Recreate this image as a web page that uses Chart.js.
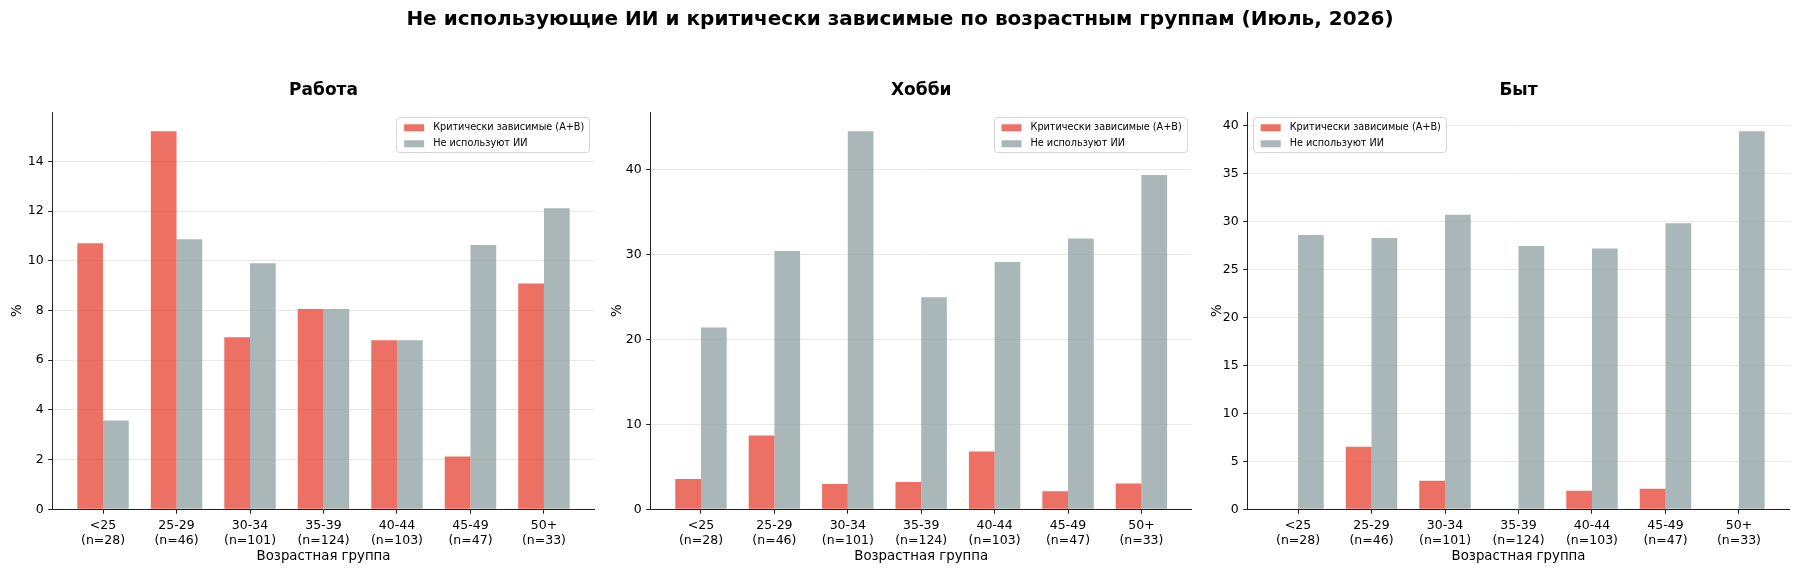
<!DOCTYPE html>
<html lang="ru">
<head>
<meta charset="utf-8">
<title>Не использующие ИИ и критически зависимые</title>
<script src="https://cdn.jsdelivr.net/npm/chart.js@4.4.1/dist/chart.umd.min.js"></script>
<style>
  body { margin: 0; background: #fff; }
  #page { position: relative; width: 1800px; height: 572px; }
  #page canvas { position: absolute; top: 0; }
  #suptitle {
    position: absolute; left: 0; top: 6px; width: 1800px;
    text-align: center; line-height: 24px;
    font: bold 20px 'DejaVu Sans', sans-serif; color: #000;
  }
</style>
</head>
<body>
<div id="page">
  <canvas id="work" width="600" height="572" style="left:0"></canvas>
  <canvas id="hobby" width="600" height="572" style="left:600px"></canvas>
  <canvas id="home" width="600" height="572" style="left:1200px"></canvas>
  <div id="suptitle">Не использующие ИИ и критически зависимые по возрастным группам (Июль, 2026)</div>
</div>
<script>
// --- data (%) ---
const ageGroups = ['<25', '25-29', '30-34', '35-39', '40-44', '45-49', '50+'];
const sampleSizes = [28, 46, 101, 124, 103, 47, 33];

const workDependent = [10.71, 15.22, 6.93, 8.06, 6.80, 2.13, 9.09];
const workNonUsers  = [3.57, 10.87, 9.90, 8.06, 6.80, 10.64, 12.12];

const hobbyDependent = [3.57, 8.70, 2.97, 3.23, 6.80, 2.13, 3.03];
const hobbyNonUsers  = [21.43, 30.43, 44.55, 25.00, 29.13, 31.91, 39.39];

const homeDependent = [0, 6.52, 2.97, 0, 1.94, 2.13, 0];
const homeNonUsers  = [28.57, 28.26, 30.69, 27.42, 27.18, 29.79, 39.39];

const workTicks  = [0, 2, 4, 6, 8, 10, 12, 14];
const hobbyTicks = [0, 10, 20, 30, 40];
const homeTicks  = [0, 5, 10, 15, 20, 25, 30, 35, 40];

const seriesLabels = ['Критически зависимые (A+B)', 'Не используют ИИ'];

Chart.defaults.font.family = "'DejaVu Sans', sans-serif";
Chart.defaults.color = '#000';

const RED = 'rgba(231, 76, 60, 0.8)';
const GREY = 'rgba(149, 165, 166, 0.8)';

// matplotlib-style framed legend inside the axes
const boxLegend = {
    id: 'boxLegend',
    afterDraw(chart, args, opts) {
        const ctx = chart.ctx;
        const area = chart.chartArea;
        const items = chart.data.datasets;
        ctx.save();
        ctx.font = "9.7px 'DejaVu Sans'";
        const textW = Math.max(...items.map(d => ctx.measureText(d.label).width));
        const w = 8 + 20 + 9 + textW + 5;
        const h = 35;
        const x = opts.align === 'left' ? area.left + 5 : area.right - 5 - w;
        const y = area.top + 5;
        ctx.fillStyle = 'rgba(255,255,255,0.8)';
        ctx.strokeStyle = 'rgba(204,204,204,0.8)';
        ctx.lineWidth = 1;
        ctx.beginPath();
        ctx.roundRect(Math.round(x) + 0.5, Math.round(y) + 0.5, Math.round(w), h, 3);
        ctx.fill();
        ctx.stroke();
        ctx.textBaseline = 'middle';
        items.forEach((d, i) => {
            const cy = y + 10.5 + i * 16;
            ctx.fillStyle = d.backgroundColor;
            ctx.fillRect(x + 8, cy - 3.5, 20, 7);
            ctx.fillStyle = '#000';
            ctx.fillText(d.label, x + 37, cy);
        });
        ctx.restore();
    }
};

function makePanel(id, title, dependent, nonUsers, yMax, yTicks, legendAlign, axisLeft, padRight) {
    const toPoints = arr => arr.map((v, i) => ({ x: i, y: v }));
    new Chart(document.getElementById(id), {
        type: 'bar',
        data: {
            datasets: [
                { label: seriesLabels[0], data: toPoints(dependent), backgroundColor: RED, borderWidth: 0 },
                { label: seriesLabels[1], data: toPoints(nonUsers), backgroundColor: GREY, borderWidth: 0 }
            ]
        },
        options: {
            responsive: false,
            animation: false,
            devicePixelRatio: 1,
            layout: { padding: { left: 0, right: padRight, top: 0, bottom: 0 } },
            datasets: { bar: { categoryPercentage: 0.7, barPercentage: 1.0 } },
            scales: {
                x: {
                    type: 'linear',
                    offset: false,
                    min: -0.685,
                    max: 6.685,
                    afterBuildTicks: s => { s.ticks = ageGroups.map((_, i) => ({ value: i })); },
                    afterFit: s => { s.height = 62.7; },
                    ticks: {
                        autoSkip: false, maxRotation: 0, padding: 4,
                        font: { size: 12.5, lineHeight: 1.2 },
                        callback: v => [ageGroups[v], '(n=' + sampleSizes[v] + ')']
                    },
                    grid: { offset: false, drawOnChartArea: false, tickLength: 4.5, tickColor: '#222', tickWidth: 1 },
                    border: { color: '#222', width: 1 },
                    title: { display: true, text: 'Возрастная группа', font: { size: 13.3 },
                             padding: { top: 0, bottom: 7.3 } }
                },
                y: {
                    min: 0,
                    max: yMax,
                    afterBuildTicks: s => { s.ticks = yTicks.map(v => ({ value: v })); },
                    afterFit: s => { s.width = axisLeft; },
                    ticks: { padding: 4.5, font: { size: 12.5 } },
                    grid: { color: '#e8e8e8', lineWidth: 1, tickLength: 4.5, tickColor: '#222', tickWidth: 1 },
                    border: { color: '#222', width: 1 },
                    title: { display: true, text: '%', font: { size: 13.3 }, padding: { top: 9.5, bottom: 0 } }
                }
            },
            plugins: {
                legend: { display: false },
                tooltip: { enabled: false },
                title: {
                    display: true, text: title, fullSize: false,
                    font: { size: 17, weight: 'bold' },
                    padding: { top: 80, bottom: 11.9 }
                },
                boxLegend: { align: legendAlign }
            }
        },
        plugins: [boxLegend]
    });
}

makePanel('work', 'Работа', workDependent, workNonUsers, 15.98, workTicks, 'right', 52.7, 5.7);
makePanel('hobby', 'Хобби', hobbyDependent, hobbyNonUsers, 46.78, hobbyTicks, 'right', 50.7, 8.3);
makePanel('home', 'Быт', homeDependent, homeNonUsers, 41.36, homeTicks, 'left', 47.7, 10.7);
</script>
</body>
</html>
